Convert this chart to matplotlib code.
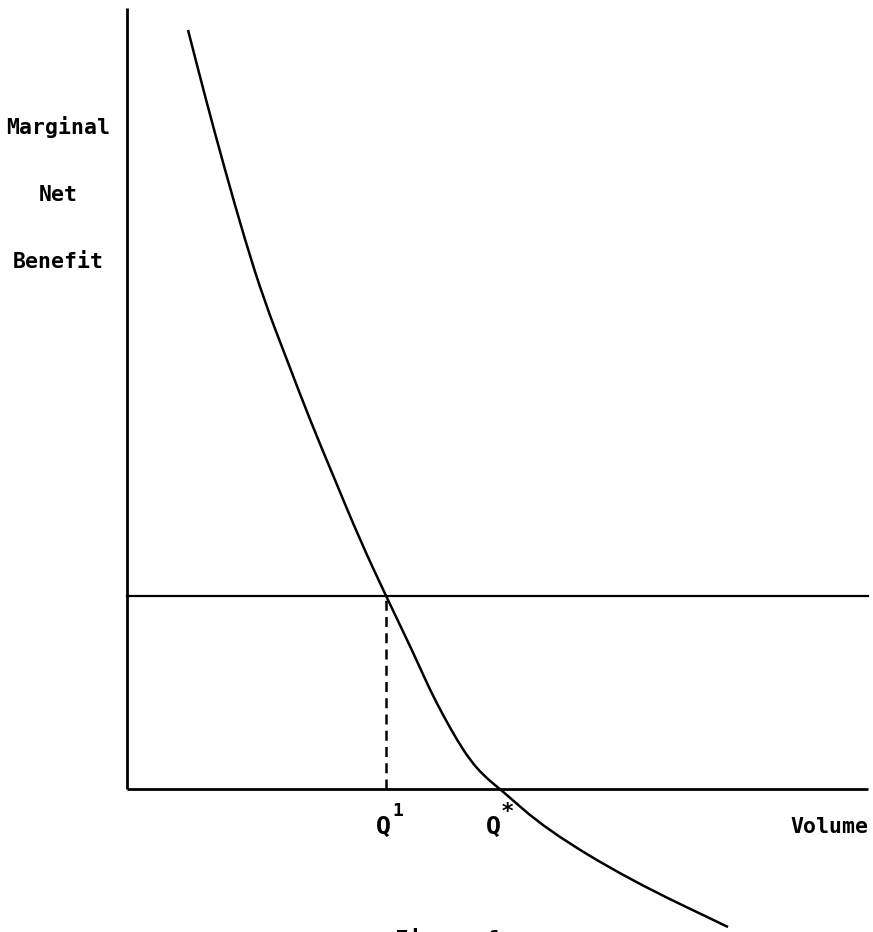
import matplotlib
matplotlib.use("Agg")
import matplotlib.pyplot as plt
from matplotlib.path import Path
from matplotlib.patches import PathPatch

# Curve (volume, marginal net benefit), arbitrary units
volume = [6.1, 7.9, 9.8, 11.8, 13.7, 16.0, 18.3, 20.8, 23.3, 25.9, 28.5, 30.3, 31.6, 33.0, 34.3, 35.7, 37.3, 42.0, 50.3, 60.1]
benefit = [75.9, 68.9, 61.9, 54.9, 48.9, 42.9, 36.9, 30.9, 24.9, 19.3, 13.9, 9.9, 7.4, 4.9, 2.9, 1.3, 0.0, -4.1, -9.1, -13.8]
cost_level = 19.3      # horizontal line
q1 = 25.9              # Q^1
qstar = 37.3           # Q*
x_max = 74.1
y_max = 78.1

ylabels = ["Marginal", "Net", "Benefit"]

fig = plt.figure(figsize=(8.73, 9.32), dpi=100)
ax = fig.add_axes([0, 0, 1, 1])
ax.set_xlim(-12.7, 74.6)
ax.set_ylim(-14.3, 78.9)
ax.axis("off")

font = dict(family="DejaVu Sans Mono", fontweight="bold", color="black")

# axes
ax.plot([0, 0], [0, y_max], color="black", lw=2.0, solid_capstyle="butt")
ax.plot([0, x_max], [0, 0], color="black", lw=2.0, solid_capstyle="butt")
# horizontal level
ax.plot([0, x_max], [cost_level, cost_level], color="black", lw=1.6)
# dashed drop line
ax.plot([q1, q1], [0, cost_level], color="black", lw=1.8, dashes=(4, 2.5))

# smooth curve through the read points (quadratic Bezier via midpoints)
pts = list(zip(volume, benefit))
verts = [pts[0]]
codes = [Path.MOVETO]
mids = [((pts[i][0] + pts[i + 1][0]) / 2, (pts[i][1] + pts[i + 1][1]) / 2) for i in range(len(pts) - 1)]
verts.append(mids[0]); codes.append(Path.LINETO)
for i in range(1, len(pts) - 1):
    verts += [pts[i], mids[i]]
    codes += [Path.CURVE3, Path.CURVE3]
verts.append(pts[-1]); codes.append(Path.LINETO)
ax.add_patch(PathPatch(Path(verts, codes), facecolor="none", edgecolor="black", lw=1.8))

# y label
for lab, y in zip(ylabels, [66.2, 59.4, 52.7]):
    ax.text(-6.9, y, lab, ha="center", va="center", fontsize=15.5, **font)

# x tick labels
ax.text(25.6, -3.8, "Q", ha="center", va="center", fontsize=18, **font)
ax.text(27.1, -2.2, "1", ha="center", va="center", fontsize=13, **font)
ax.text(36.6, -3.8, "Q", ha="center", va="center", fontsize=18, **font)
ax.text(38.0, -2.3, "*", ha="center", va="center", fontsize=16, **font)
ax.text(70.2, -3.8, "Volume", ha="center", va="center", fontsize=15.5, **font)

# caption (cut off at bottom in the reference)
ax.text(26.8, -13.95, "Figure 1", ha="left", va="top", fontsize=16, **font)

fig.savefig("out.png", dpi=100)
